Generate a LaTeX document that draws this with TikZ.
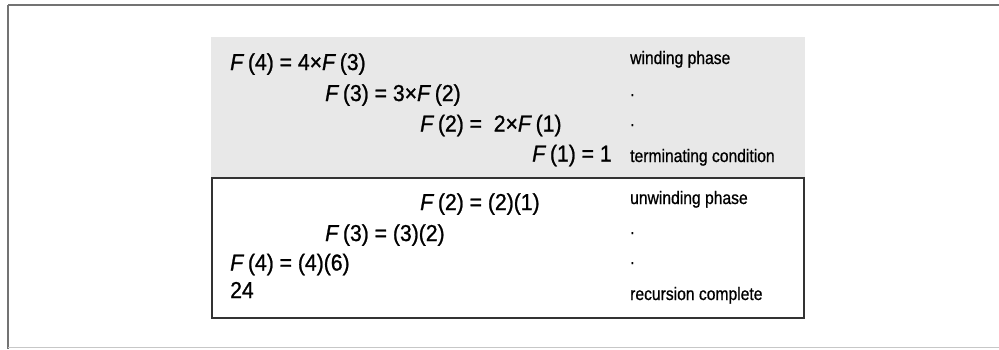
\documentclass[tikz,border=0pt]{standalone}
\usepackage{fontspec}
\setmainfont{Liberation Sans}
\newfontfamily\eqfont[FakeStretch=0.92,FakeBold=1]{Liberation Sans}
\newfontfamily\notefont[FakeStretch=0.87,FakeBold=0.8]{Liberation Sans}
\newcommand{\Fof}[1]{\textit{F}\,(#1)}

\begin{document}
\begin{tikzpicture}[x=1pt,y=-1pt,
    eq/.style={anchor=base west, inner sep=0pt, font=\eqfont\fontsize{23}{26}\selectfont},
    note/.style={anchor=base west, inner sep=0pt, font=\notefont\fontsize{18}{20}\selectfont},
    frame/.style={line width=2pt, draw=black!55},
    panel/.style={line width=2pt, draw=black!80}
]
\useasboundingbox (0,0) rectangle (999,349);

% Outer frame
\draw[frame] (8,5) -- (999,5);
\draw[frame] (8,5) -- (8,349);
\draw[black!22, line width=1pt] (8,347.5) -- (999,347.5);

% Winding panel
\fill[black!9] (211,37) rectangle (805,177);
% Unwinding panel
\draw[panel] (212,178) rectangle (804,318);

% Winding
\node[eq] (w4) at (230,70) {\Fof{4} = 4×\Fof{3}};
\node[eq] (w3) at (325,101) {\Fof{3} = 3×\Fof{2}};
\node[eq] (w2) at (420,131.5) {\Fof{2} =~~2×\Fof{1}};
\node[eq] (w1) at (532,161.5) {\Fof{1} = 1};

\node[note] (nw1) at (630,64) {winding phase};
\node[note] (nw2) at (630,96) {.};
\node[note] (nw3) at (630,126) {.};
\node[note] (nw4) at (630,162) {terminating condition};

% Unwinding
\node[eq] (u2) at (420,210) {\Fof{2} = (2)(1)};
\node[eq] (u3) at (325,241) {\Fof{3} = (3)(2)};
\node[eq] (u4) at (230,270.5) {\Fof{4} = (4)(6)};
\node[eq] (u0) at (230,298) {24};

\node[note] (nu1) at (630,204) {unwinding phase};
\node[note] (nu2) at (630,234) {.};
\node[note] (nu3) at (630,264) {.};
\node[note] (nu4) at (630,300) {recursion complete};

\end{tikzpicture}
\end{document}
